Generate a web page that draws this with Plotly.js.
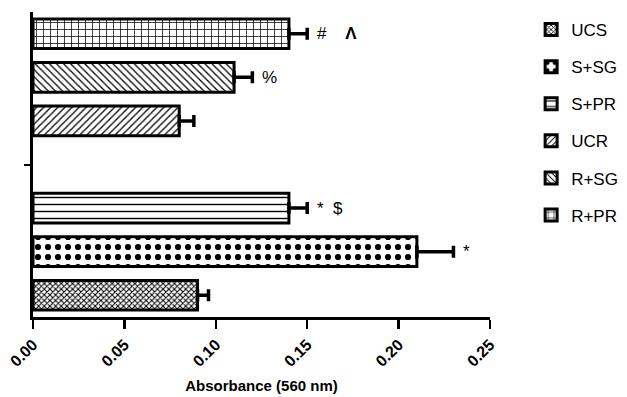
<!DOCTYPE html>
<html>
<head>
<meta charset="utf-8">
<script src="https://cdn.plot.ly/plotly-3.0.1.min.js"></script>
<style>html,body{margin:0;padding:0;background:#fff}#chart{width:627px;height:397px}</style>
</head>
<body>
<div id="chart"></div>
<script>
// Data (bottom to top)
const groups = ["UCS", "S+SG", "S+PR", "UCR", "R+SG", "R+PR"];
const absorbance = [0.09, 0.21, 0.14, 0.08, 0.11, 0.14];
const sem = [0.006, 0.02, 0.01, 0.008, 0.01, 0.01];
const marks = ["", "*", "*  $", "", "%", "#    <b>\u039B</b>"];
const xTickVals = [0, 0.05, 0.10, 0.15, 0.20, 0.25];

// styles
const patterns = [
  {shape: "x", size: 4, solidity: 0.45},
  {shape: ".", size: 10, solidity: 0.3},
  {shape: "-", size: 7, solidity: 0.2},
  {shape: "/", size: 5, solidity: 0.25},
  {shape: "\\", size: 5, solidity: 0.25},
  {shape: "+", size: 7, solidity: 0.2}
];
// position index with a gap between the two halves
const pos = groups.map((g, i) => i < 3 ? i : i + 1);

const traces = groups.map((g, i) => ({
  type: "bar",
  orientation: "h",
  name: g,
  legendgroup: g,
  y: [pos[i]],
  x: [absorbance[i]],
  width: 0.68,
  marker: {
    color: "white",
    line: {color: "black", width: 3},
    pattern: Object.assign({fgcolor: "black", bgcolor: "white", fillmode: "replace"}, patterns[i])
  },
  error_x: {type: "data", symmetric: false, array: [sem[i]], arrayminus: [0], color: "black", thickness: 3.5, width: 6}
}));

const annotations = groups.map((g, i) => ({
  x: absorbance[i] + sem[i],
  y: pos[i],
  xref: "x", yref: "y",
  text: marks[i],
  showarrow: false,
  xanchor: "left",
  xshift: 8,
  font: {family: "Arial, Liberation Sans, sans-serif", size: 17, color: "black"}
})).filter(a => a.text !== "");

const layout = {
  width: 627, height: 397,
  margin: {l: 33, r: 137, t: 12, b: 80, autoexpand: false},
  paper_bgcolor: "white", plot_bgcolor: "white",
  showlegend: true,
  legend: {
    x: 1.09, xanchor: "left", y: 1.0, yanchor: "top",
    traceorder: "grouped", tracegroupgap: 12,
    font: {family: "Arial, Liberation Sans, sans-serif", size: 17, color: "black"}
  },
  xaxis: {
    range: [0, 0.25],
    tickvals: xTickVals,
    tickformat: ".2f",
    tickangle: -45,
    ticks: "outside", ticklen: 9, tickwidth: 2.5, tickcolor: "black",
    showline: true, linewidth: 3, linecolor: "black",
    showgrid: false, zeroline: false,
    tickfont: {family: "Arial, Liberation Sans, sans-serif", size: 16, color: "black", weight: "bold"},
    title: {text: "<b>Absorbance (560 nm)</b>", font: {family: "Arial, Liberation Sans, sans-serif", size: 15, color: "black"}, standoff: 12}
  },
  yaxis: {
    range: [-0.5, 6.5],
    tickvals: [3], ticktext: [""],
    ticks: "outside", ticklen: 6, tickwidth: 2, tickcolor: "black",
    showline: true, linewidth: 3, linecolor: "black",
    showgrid: false, zeroline: false
  },
  annotations: annotations
};

Plotly.newPlot("chart", traces, layout, {displayModeBar: false, staticPlot: true});
</script>
</body>
</html>
